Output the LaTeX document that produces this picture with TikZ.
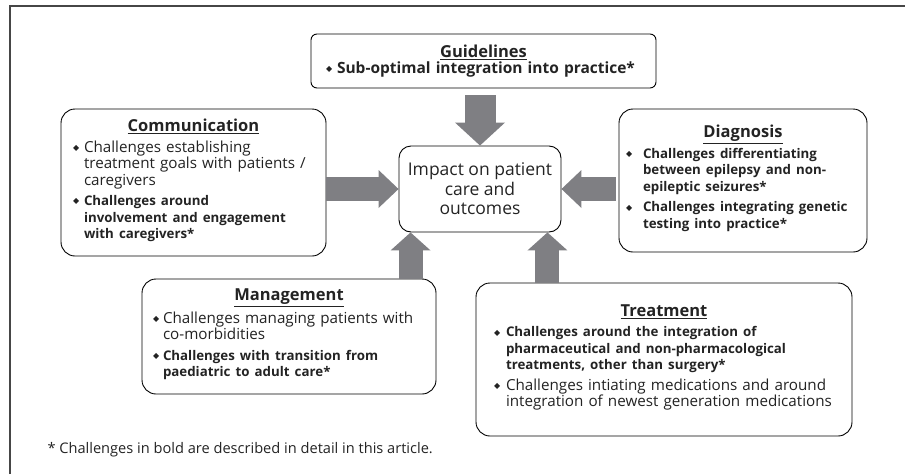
\documentclass[tikz,border=0pt]{standalone}
\usepackage{fontspec}
\setmainfont{Open Sans}
\newfontfamily\symfont{DejaVu Sans}
\usetikzlibrary{arrows.meta}

\definecolor{arrowgray}{RGB}{127,127,131}
\definecolor{framegray}{RGB}{70,70,70}
\definecolor{bodygray}{RGB}{35,35,35}

% font sizes
\newcommand{\bodysize}{\fontsize{15.2}{16.5}\selectfont}
\newcommand{\boldsize}{\fontsize{13.3}{15.8}\selectfont\bfseries}
\newcommand{\titlesize}{\fontsize{16.5}{19}\selectfont}
\newcommand{\hubsize}{\fontsize{17.5}{19.5}\selectfont}
\newcommand{\notesize}{\fontsize{14.6}{17}\selectfont}

% box contents
\newcommand{\bmark}{{\symfont\fontsize{8}{8}\selectfont\raisebox{1.8pt}{◆}}}
\newcommand{\boxtitle}[1]{{\centering\titlesize\bfseries\underline{#1}\par}\vspace{4pt}}
\newcommand{\bitem}[2][11pt]{\par\hangindent=#1\hangafter=1\noindent\hbox to #1{\bmark\hss}{#2}\par\vspace{4pt}}

\begin{document}
\begin{tikzpicture}[x=1pt,y=-1pt,
  panel/.style={draw, line width=0.9pt, rounded corners=14pt, align=left,
    inner ysep=2pt, font=\bodysize, text=bodygray},
  hubbox/.style={draw, line width=0.9pt, rounded corners=12pt, align=center,
    font=\hubsize, text=bodygray, minimum width=162pt, minimum height=86pt},
  fatarrow/.style n args={3}{arrowgray, line width=#1,
    -{Triangle[length=#2, width=#3, line width=0pt]}}]

\useasboundingbox (0,0) rectangle (905,474);

% frame round the figure
\draw[framegray, line width=1.5pt] (10,474) -- (10,6) -- (905,6);

% centre box
\node[hubbox] (hub) at (480,189) {Impact on patient\\care and\\outcomes};

% the five areas
\node[panel, rounded corners=6pt, minimum width=345pt, minimum height=54pt,
  text width=315pt, inner xsep=15pt] (guide) at (483.5,61)
  {\boxtitle{Guidelines}\vspace{-5pt}
   \bitem{\boldsize\fontsize{15.5}{17}\selectfont Sub-optimal integration into practice*}\vspace{-4pt}};

\node[panel, minimum width=265pt, minimum height=147pt,
  text width=241pt, inner xsep=12pt] (comm) at (193.5,182.5)
  {\boxtitle{Communication}
   \bitem{Challenges establishing\newline treatment goals with patients /\newline caregivers}
   \bitem{\boldsize Challenges around\newline involvement and engagement\newline with caregivers*}};

\node[panel, minimum width=248pt, minimum height=143pt,
  text width=234pt, inner xsep=7pt] (diag) at (743,180.5)
  {\boxtitle{Diagnosis}
   \bitem[17pt]{\boldsize Challenges differentiating\newline between epilepsy and non-\newline epileptic seizures*}
   \bitem[17pt]{\boldsize Challenges integrating genetic\newline testing into practice*}};

\node[panel, minimum width=294pt, minimum height=115pt,
  text width=272pt, inner xsep=11pt] (mgmt) at (289,336.5)
  {\boxtitle{Management}
   \bitem[10pt]{Challenges managing patients with\newline co-morbidities}
   \bitem[10pt]{\boldsize Challenges with transition from\newline paediatric to adult care*}};

\node[panel, minimum width=376pt, minimum height=153pt,
  text width=340pt, inner xsep=18pt] (treat) at (664,359.5)
  {\boxtitle{Treatment}
   \bitem[12pt]{\boldsize Challenges around the integration of\newline pharmaceutical and non-pharmacological\newline treatments, other than surgery*}
   \bitem[12pt]{Challenges intiating medications and around\newline integration of newest generation medications}};

% footnote
\node[anchor=base west, font=\notesize, text=bodygray] (note) at (44,453)
  {* Challenges in bold are described in detail in this article.};

% arrows into the centre box
\coordinate (mgmtin) at ([xshift=12pt]hub.south west);
\coordinate (treatin) at ([xshift=-14pt]hub.south east);

\draw[fatarrow={31pt}{23pt}{50pt}, shorten <=7pt] (hub.north |- guide.south) -- (hub.north);
\draw[fatarrow={24pt}{20pt}{38pt}] (comm.east |- hub.west) -- (hub.west);
\draw[fatarrow={24pt}{20pt}{38pt}, shorten <=3pt] (diag.west |- hub.east) -- (hub.east);
\draw[fatarrow={24pt}{18pt}{40pt}] (mgmt.north -| mgmtin) -- (mgmtin);
\draw[fatarrow={24pt}{18pt}{40pt}] (treat.north -| treatin) -- (treatin);

\end{tikzpicture}
\end{document}
